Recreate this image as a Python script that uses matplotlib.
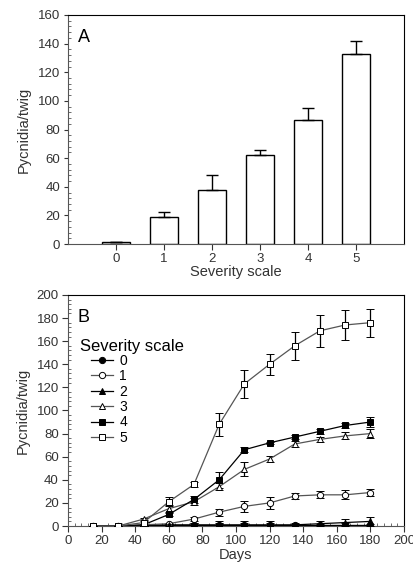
import numpy as np
import matplotlib.pyplot as plt
from matplotlib.ticker import MultipleLocator

plt.rcParams['font.family'] = ['Liberation Sans', 'DejaVu Sans']

# ---- panel A data ----
severity = [0, 1, 2, 3, 4, 5]
pyc_mean = [1.5, 19, 38, 62.5, 87, 133]
pyc_err = [0, 3.5, 10.5, 3.5, 8, 9]

# ---- panel B data ----
days = [15, 30, 45, 60, 75, 90, 105, 120, 135, 150, 165, 180]
s0 = [0, 0, 0, 0.5, 0.5, 0.5, 0.5, 0.5, 0.5, 0.5, 0.5, 0.5]
s0_err = [0, 0, 0, 1, 2, 2, 2, 2, 1.5, 1.5, 2, 1]
s1 = [0, 0, 1, 2, 6, 12, 17, 20, 26, 27, 27, 29]
s1_err = [0, 0, 0.5, 1, 2, 3, 5, 5, 3, 3, 4, 3]
s2 = [0, 0, 0, 1, 1, 1, 1, 1, 1, 2, 3, 4]
s2_err = [0, 0, 0, 1, 2, 3, 3, 3, 2, 2, 3, 4]
s3 = [0, 0, 6, 15, 21, 34, 49, 58, 71, 75, 78, 80]
s3_err = [0, 0, 1, 3, 3, 3, 6, 3, 3, 2, 3, 4]
s4 = [0, 0, 1, 10, 23, 40, 66, 72, 77, 82, 87, 90]
s4_err = [0, 0, 1, 1, 3, 7, 2, 1, 2, 2, 2, 4]
s5 = [0, 0, 3, 21, 36, 88, 123, 140, 156, 169, 174, 176]
s5_err = [0, 0, 1, 4, 2, 10, 12, 9, 12, 14, 13, 12]

series = [s0, s1, s2, s3, s4, s5]
errs = [s0_err, s1_err, s2_err, s3_err, s4_err, s5_err]
labels = ['0', '1', '2', '3', '4', '5']
markers = ['o', 'o', '^', '^', 's', 's']
filled = [True, False, True, False, True, False]

fig = plt.figure(figsize=(4.14, 5.65), dpi=100)

def style_axes(ax):
    for side in ['top', 'right']:
        ax.spines[side].set_color('black')
    for side in ['left', 'bottom']:
        ax.spines[side].set_color('#555555')
    ax.tick_params(which='major', direction='out', length=4, width=0.8,
                   labelsize=9.5, colors='#333333', pad=2.5)
    ax.tick_params(which='minor', direction='in', length=2, width=0.6,
                   colors='#555555')

### panel A ###
ax1 = fig.add_axes([0.164, 0.568, 0.812, 0.4055])
ax1.bar(severity, pyc_mean, width=0.6, color='white', edgecolor='black',
        linewidth=1.0, zorder=2)
ax1.errorbar(severity, pyc_mean, yerr=[np.zeros(6), pyc_err], fmt='none',
             ecolor='black', elinewidth=1.0, capsize=4, capthick=1.0, zorder=3)
ax1.set_xlim(-1, 6)
ax1.set_ylim(0, 160)
ax1.set_xticks(severity)
ax1.yaxis.set_major_locator(MultipleLocator(20))
ax1.yaxis.set_minor_locator(MultipleLocator(4))
style_axes(ax1)
ax1.tick_params(axis='y', which='major', length=3)
ax1.set_xlabel('Severity scale', fontsize=10.5, color='#333333', labelpad=0)
ax1.set_ylabel('Pycnidia/twig', fontsize=10.5, color='#333333', labelpad=5)
ax1.text(0.03, 0.94, 'A', transform=ax1.transAxes, fontsize=13,
         va='top', ha='left')

### panel B ###
ax2 = fig.add_axes([0.164, 0.069, 0.812, 0.409])
line_cols = ['black', '#555555', 'black', '#555555', 'black', '#555555']
handles = []
for vals, e, lab, m, f, lc in zip(series, errs, labels, markers, filled, line_cols):
    cont = ax2.errorbar(days, vals, yerr=e, color=lc, ecolor='black', elinewidth=0.9,
                        capsize=3, capthick=0.9, linewidth=0.9, marker=m,
                        markersize=4.5, markerfacecolor='black' if f else 'white',
                        markeredgecolor='black', markeredgewidth=0.7, label=lab,
                        zorder=3)
    handles.append(cont[0])
ax2.set_xlim(0, 200)
ax2.set_ylim(0, 200)
ax2.xaxis.set_major_locator(MultipleLocator(20))
ax2.xaxis.set_minor_locator(MultipleLocator(4))
ax2.yaxis.set_major_locator(MultipleLocator(20))
ax2.yaxis.set_minor_locator(MultipleLocator(4))
style_axes(ax2)
ax2.set_xlabel('Days', fontsize=10.5, color='#333333', labelpad=1)
ax2.set_ylabel('Pycnidia/twig', fontsize=10.5, color='#333333', labelpad=5)
ax2.text(0.03, 0.94, 'B', transform=ax2.transAxes, fontsize=13,
         va='top', ha='left')

ax2.text(0.036, 0.775, 'Severity scale', transform=ax2.transAxes,
         fontsize=12, va='center', ha='left')
ax2.legend(handles, labels, loc='upper left', bbox_to_anchor=(0.068, 0.745),
           frameon=False, fontsize=10, handlelength=1.6, handletextpad=0.45,
           labelspacing=0.1, borderpad=0, borderaxespad=0)

fig.savefig('out.png', dpi=100)
